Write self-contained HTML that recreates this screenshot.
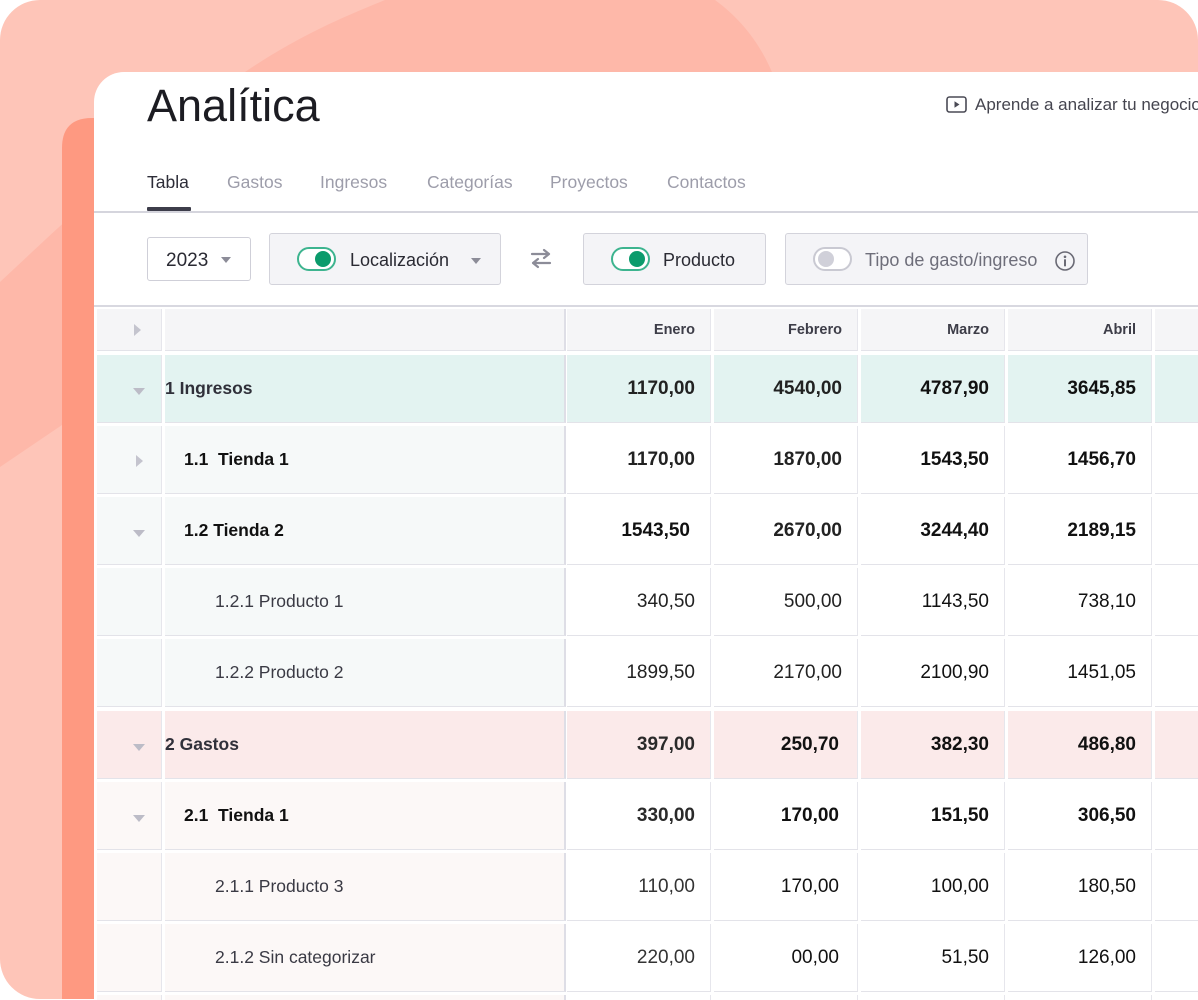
<!DOCTYPE html>
<html><head><meta charset="utf-8">
<style>
*{box-sizing:border-box;margin:0;padding:0}
html,body{width:1198px;height:1000px;overflow:hidden;background:#fff;font-family:"Liberation Sans",sans-serif}
#wrap{position:relative;width:1198px;height:1000px;overflow:hidden;background:#fff}
.abs{position:absolute}
#card{position:absolute;left:94px;top:72px;width:1140px;height:928px;background:#fff;border-top-left-radius:30px;overflow:hidden}
.t{position:absolute;white-space:pre;line-height:1}
.box{position:absolute;border-radius:3px}
.tog{position:absolute;width:39px;height:24px;border-radius:12px;background:#fff}
.tog.on{border:2px solid #3db48f}
.tog.on i{position:absolute;right:3px;top:2px;width:16px;height:16px;border-radius:50%;background:#0b9b6c}
.tog.off{border:2px solid #c9c9d2}
.tog.off i{position:absolute;left:3px;top:2px;width:16px;height:16px;border-radius:50%;background:#d0d0d9}
.caret{position:absolute;width:0;height:0;border-left:5px solid transparent;border-right:5px solid transparent;border-top:6px solid #8c8c98}
.c{position:absolute;border-bottom:1.5px solid #e3e3e9;border-right:1px solid #e6e6ec;display:flex;align-items:center;white-space:pre;overflow:hidden}
.num{justify-content:flex-end;padding-right:15px;font-size:19px}
.lab{font-size:17.5px}
.rt{width:0;height:0;border-top:6px solid transparent;border-bottom:6px solid transparent;border-left:7px solid #c4c4ce}
.dn{width:0;height:0;border-left:6px solid transparent;border-right:6px solid transparent;border-top:7px solid #bcbcc7}
.a0{padding-left:36px}
</style></head><body><div id="wrap">

<svg class="abs" style="left:0;top:0" width="1198" height="1000" viewBox="0 0 1198 1000">
  <defs><clipPath id="cp"><rect x="0" y="0" width="1198" height="999" rx="40" ry="40"/></clipPath></defs>
  <g clip-path="url(#cp)">
    <rect x="0" y="0" width="1198" height="1000" fill="#fec5b8"/>
    <path d="M0,282 C60,226 150,140 245,72 C295,38 340,18 385,0 L715,0 C742,20 762,45 776,82 L776,420 L200,400 L62,425 L0,467 Z" fill="#feb8a9"/>
    <path d="M62,999 L62,148 Q62,118 92,118 L110,118 L110,999 Z" fill="#fe9981"/>
  </g>
</svg>

<div id="card"></div>

<!-- title -->
<div class="t" style="left:147px;top:83px;font-size:45px;color:#1c1c22">Analítica</div>

<!-- aprende -->
<svg class="abs" style="left:946px;top:96px" width="22" height="18" viewBox="0 0 22 18">
  <rect x="1" y="1" width="19" height="15" rx="2.5" fill="none" stroke="#4a4a55" stroke-width="1.6"/>
  <path d="M8.5,5.2 L13.5,8.5 L8.5,11.8 Z" fill="#4a4a55"/>
</svg>
<div class="t" style="left:975px;top:96px;font-size:17px;color:#45454f">Aprende a analizar tu negocio</div>

<!-- tabs -->
<div class="t" style="left:147px;top:174px;font-size:17.5px;color:#2d2d38">Tabla</div>
<div class="t" style="left:227px;top:174px;font-size:17.5px;color:#9d9daa">Gastos</div>
<div class="t" style="left:320px;top:174px;font-size:17.5px;color:#9d9daa">Ingresos</div>
<div class="t" style="left:427px;top:174px;font-size:17.5px;color:#9d9daa">Categorías</div>
<div class="t" style="left:550px;top:174px;font-size:17.5px;color:#9d9daa">Proyectos</div>
<div class="t" style="left:667px;top:174px;font-size:17.5px;color:#9d9daa">Contactos</div>
<div class="abs" style="left:147px;top:207px;width:44px;height:4px;background:#3d3d4a;border-radius:1px"></div>
<div class="abs" style="left:94px;top:211px;width:1104px;height:1.5px;background:#d5d5dd"></div>

<!-- filters -->
<div class="box" style="left:147px;top:237px;width:104px;height:44px;border:1px solid #cfcfd8;background:#fff"></div>
<div class="t" style="left:166px;top:251px;font-size:19px;color:#2a2a33">2023</div>
<div class="caret" style="left:221px;top:257px"></div>

<div class="box" style="left:269px;top:233px;width:232px;height:52px;border:1.5px solid #d3d3db;background:#f4f4f7"></div>
<div class="tog on" style="left:297px;top:247px"><i></i></div>
<div class="t" style="left:350px;top:251px;font-size:18px;color:#2a2a33">Localización</div>
<div class="caret" style="left:471px;top:258px"></div>

<svg class="abs" style="left:529px;top:248px" width="24" height="21" viewBox="0 0 24 21">
  <path d="M3,6 L20,6 M15,2 L20,6 L15,10" fill="none" stroke="#8c8c98" stroke-width="2.2" stroke-linecap="round" stroke-linejoin="round"/>
  <path d="M21,15 L4,15 M9,11 L4,15 L9,19" fill="none" stroke="#8c8c98" stroke-width="2.2" stroke-linecap="round" stroke-linejoin="round"/>
</svg>

<div class="box" style="left:583px;top:233px;width:183px;height:52px;border:1.5px solid #d3d3db;background:#f4f4f7"></div>
<div class="tog on" style="left:611px;top:247px"><i></i></div>
<div class="t" style="left:663px;top:251px;font-size:18px;color:#2a2a33">Producto</div>

<div class="box" style="left:785px;top:233px;width:303px;height:52px;border:1.5px solid #d3d3db;background:#f4f4f7"></div>
<div class="tog off" style="left:813px;top:247px"><i></i></div>
<div class="t" style="left:865px;top:251px;font-size:18px;color:#6e6e7a">Tipo de gasto/ingreso</div>
<svg class="abs" style="left:1054px;top:250px" width="22" height="22" viewBox="0 0 22 22">
  <circle cx="11" cy="11" r="9" fill="none" stroke="#6a6a75" stroke-width="1.6"/>
  <circle cx="11" cy="6.8" r="1.3" fill="#6a6a75"/>
  <rect x="10" y="9.3" width="2" height="7" fill="#6a6a75"/>
</svg>

<div class="abs" style="left:94px;top:305px;width:1104px;height:1.5px;background:#d8d8e0"></div>

<!-- TABLE -->
<!-- header -->
<div class="c" style="left:97px;top:309px;width:65px;height:42px;background:#f5f5f7;padding-left:37px"><div class="rt" style="margin-top:1px"></div></div>
<div class="c" style="left:165px;top:309px;width:401px;height:42px;background:#f5f5f7;border-right:2px solid #dedee6"></div>
<div class="c num" style="left:567px;top:309px;width:144px;height:42px;background:#f5f5f7;font-size:14.5px;font-weight:bold;color:#3d3d48">Enero</div>
<div class="c num" style="left:714px;top:309px;width:144px;height:42px;background:#f5f5f7;font-size:14.5px;font-weight:bold;color:#3d3d48">Febrero</div>
<div class="c num" style="left:861px;top:309px;width:144px;height:42px;background:#f5f5f7;font-size:14.5px;font-weight:bold;color:#3d3d48">Marzo</div>
<div class="c num" style="left:1008px;top:309px;width:144px;height:42px;background:#f5f5f7;font-size:14.5px;font-weight:bold;color:#3d3d48">Abril</div>
<div class="c num" style="left:1155px;top:309px;width:144px;height:42px;background:#f5f5f7"></div>

<!-- row 1 Ingresos -->
<div class="c a0" style="left:97px;top:355px;width:65px;height:68px;background:#e3f3f1"><div class="dn" style="margin-top:6px"></div></div>
<div class="c lab" style="left:165px;top:355px;width:401px;height:68px;background:#e3f3f1;border-right:2px solid #dedee6;font-weight:bold;color:#30303a">1 Ingresos</div>
<div class="c num" style="left:567px;top:355px;width:144px;height:68px;background:#e3f3f1;font-weight:bold;color:#222">1170,00</div>
<div class="c num" style="left:714px;top:355px;width:144px;height:68px;background:#e3f3f1;font-weight:bold;color:#222">4540,00</div>
<div class="c num" style="left:861px;top:355px;width:144px;height:68px;background:#e3f3f1;font-weight:bold;color:#111">4787,90</div>
<div class="c num" style="left:1008px;top:355px;width:144px;height:68px;background:#e3f3f1;font-weight:bold;color:#111">3645,85</div>
<div class="c num" style="left:1155px;top:355px;width:144px;height:68px;background:#e3f3f1"></div>

<!-- row 1.1 -->
<div class="c" style="left:97px;top:426px;width:65px;height:68px;background:#f6f9f9;padding-left:39px"><div class="rt" style="margin-top:3px"></div></div>
<div class="c lab" style="left:165px;top:426px;width:401px;height:68px;background:#f6f9f9;border-right:2px solid #dedee6;font-weight:bold;color:#111;padding-left:19px">1.1  Tienda 1</div>
<div class="c num" style="left:567px;top:426px;width:144px;height:68px;background:#fff;font-weight:bold;color:#222">1170,00</div>
<div class="c num" style="left:714px;top:426px;width:144px;height:68px;background:#fff;font-weight:bold;color:#222">1870,00</div>
<div class="c num" style="left:861px;top:426px;width:144px;height:68px;background:#fff;font-weight:bold;color:#111">1543,50</div>
<div class="c num" style="left:1008px;top:426px;width:144px;height:68px;background:#fff;font-weight:bold;color:#111">1456,70</div>
<div class="c num" style="left:1155px;top:426px;width:144px;height:68px;background:#fff"></div>

<!-- row 1.2 -->
<div class="c a0" style="left:97px;top:497px;width:65px;height:68px;background:#f6f9f9"><div class="dn" style="margin-top:6px"></div></div>
<div class="c lab" style="left:165px;top:497px;width:401px;height:68px;background:#f6f9f9;border-right:2px solid #dedee6;font-weight:bold;color:#111;padding-left:19px">1.2 Tienda 2</div>
<div class="c num" style="left:567px;top:497px;width:144px;height:68px;background:#fff;font-weight:bold;color:#111;padding-right:20px">1543,50</div>
<div class="c num" style="left:714px;top:497px;width:144px;height:68px;background:#fff;font-weight:bold;color:#222">2670,00</div>
<div class="c num" style="left:861px;top:497px;width:144px;height:68px;background:#fff;font-weight:bold;color:#111">3244,40</div>
<div class="c num" style="left:1008px;top:497px;width:144px;height:68px;background:#fff;font-weight:bold;color:#111">2189,15</div>
<div class="c num" style="left:1155px;top:497px;width:144px;height:68px;background:#fff"></div>

<!-- row 1.2.1 -->
<div class="c" style="left:97px;top:568px;width:65px;height:68px;background:#f6f9f9"></div>
<div class="c lab" style="left:165px;top:568px;width:401px;height:68px;background:#f6f9f9;border-right:2px solid #dedee6;color:#3a3a44;padding-left:50px">1.2.1 Producto 1</div>
<div class="c num" style="left:567px;top:568px;width:144px;height:68px;background:#fff;color:#222">340,50</div>
<div class="c num" style="left:714px;top:568px;width:144px;height:68px;background:#fff;color:#222">500,00</div>
<div class="c num" style="left:861px;top:568px;width:144px;height:68px;background:#fff;color:#111">1143,50</div>
<div class="c num" style="left:1008px;top:568px;width:144px;height:68px;background:#fff;color:#111">738,10</div>
<div class="c num" style="left:1155px;top:568px;width:144px;height:68px;background:#fff"></div>

<!-- row 1.2.2 -->
<div class="c" style="left:97px;top:639px;width:65px;height:68px;background:#f6f9f9"></div>
<div class="c lab" style="left:165px;top:639px;width:401px;height:68px;background:#f6f9f9;border-right:2px solid #dedee6;color:#3a3a44;padding-left:50px">1.2.2 Producto 2</div>
<div class="c num" style="left:567px;top:639px;width:144px;height:68px;background:#fff;color:#222">1899,50</div>
<div class="c num" style="left:714px;top:639px;width:144px;height:68px;background:#fff;color:#222">2170,00</div>
<div class="c num" style="left:861px;top:639px;width:144px;height:68px;background:#fff;color:#111">2100,90</div>
<div class="c num" style="left:1008px;top:639px;width:144px;height:68px;background:#fff;color:#111">1451,05</div>
<div class="c num" style="left:1155px;top:639px;width:144px;height:68px;background:#fff"></div>

<!-- row 2 Gastos -->
<div class="c a0" style="left:97px;top:711px;width:65px;height:68px;background:#fbeaea"><div class="dn" style="margin-top:6px"></div></div>
<div class="c lab" style="left:165px;top:711px;width:401px;height:68px;background:#fbeaea;border-right:2px solid #dedee6;font-weight:bold;color:#30303a">2 Gastos</div>
<div class="c num" style="left:567px;top:711px;width:144px;height:68px;background:#fbeaea;font-weight:bold;color:#2a2a2a">397,00</div>
<div class="c num" style="left:714px;top:711px;width:144px;height:68px;background:#fbeaea;font-weight:bold;color:#111;padding-right:18px">250,70</div>
<div class="c num" style="left:861px;top:711px;width:144px;height:68px;background:#fbeaea;font-weight:bold;color:#111">382,30</div>
<div class="c num" style="left:1008px;top:711px;width:144px;height:68px;background:#fbeaea;font-weight:bold;color:#111">486,80</div>
<div class="c num" style="left:1155px;top:711px;width:144px;height:68px;background:#fbeaea"></div>

<!-- row 2.1 -->
<div class="c a0" style="left:97px;top:782px;width:65px;height:68px;background:#fcf8f7"><div class="dn" style="margin-top:6px"></div></div>
<div class="c lab" style="left:165px;top:782px;width:401px;height:68px;background:#fcf8f7;border-right:2px solid #dedee6;font-weight:bold;color:#111;padding-left:19px">2.1  Tienda 1</div>
<div class="c num" style="left:567px;top:782px;width:144px;height:68px;background:#fff;font-weight:bold;color:#2a2a2a">330,00</div>
<div class="c num" style="left:714px;top:782px;width:144px;height:68px;background:#fff;font-weight:bold;color:#111;padding-right:18px">170,00</div>
<div class="c num" style="left:861px;top:782px;width:144px;height:68px;background:#fff;font-weight:bold;color:#111">151,50</div>
<div class="c num" style="left:1008px;top:782px;width:144px;height:68px;background:#fff;font-weight:bold;color:#111">306,50</div>
<div class="c num" style="left:1155px;top:782px;width:144px;height:68px;background:#fff"></div>

<!-- row 2.1.1 -->
<div class="c" style="left:97px;top:853px;width:65px;height:68px;background:#fcf8f7"></div>
<div class="c lab" style="left:165px;top:853px;width:401px;height:68px;background:#fcf8f7;border-right:2px solid #dedee6;color:#3a3a44;padding-left:50px">2.1.1 Producto 3</div>
<div class="c num" style="left:567px;top:853px;width:144px;height:68px;background:#fff;color:#333">110,00</div>
<div class="c num" style="left:714px;top:853px;width:144px;height:68px;background:#fff;color:#111;padding-right:18px">170,00</div>
<div class="c num" style="left:861px;top:853px;width:144px;height:68px;background:#fff;color:#111">100,00</div>
<div class="c num" style="left:1008px;top:853px;width:144px;height:68px;background:#fff;color:#111">180,50</div>
<div class="c num" style="left:1155px;top:853px;width:144px;height:68px;background:#fff"></div>

<!-- row 2.1.2 -->
<div class="c" style="left:97px;top:924px;width:65px;height:68px;background:#fcf8f7"></div>
<div class="c lab" style="left:165px;top:924px;width:401px;height:68px;background:#fcf8f7;border-right:2px solid #dedee6;color:#3a3a44;padding-left:50px">2.1.2 Sin categorizar</div>
<div class="c num" style="left:567px;top:924px;width:144px;height:68px;background:#fff;color:#333">220,00</div>
<div class="c num" style="left:714px;top:924px;width:144px;height:68px;background:#fff;color:#111;padding-right:18px">00,00</div>
<div class="c num" style="left:861px;top:924px;width:144px;height:68px;background:#fff;color:#111">51,50</div>
<div class="c num" style="left:1008px;top:924px;width:144px;height:68px;background:#fff;color:#111">126,00</div>
<div class="c num" style="left:1155px;top:924px;width:144px;height:68px;background:#fff"></div>

<!-- partial row -->
<div class="c" style="left:97px;top:995px;width:65px;height:5px;border-bottom:none;background:#fcf8f7"></div>
<div class="c" style="left:165px;top:995px;width:401px;height:5px;border-bottom:none;background:#fcf8f7;border-right:2px solid #dedee6"></div>
<div class="c" style="left:567px;top:995px;width:144px;height:5px;border-bottom:none;background:#fff"></div>
<div class="c" style="left:714px;top:995px;width:144px;height:5px;border-bottom:none;background:#fff"></div>
<div class="c" style="left:861px;top:995px;width:144px;height:5px;border-bottom:none;background:#fff"></div>
<div class="c" style="left:1008px;top:995px;width:144px;height:5px;border-bottom:none;background:#fff"></div>

</div></body></html>
